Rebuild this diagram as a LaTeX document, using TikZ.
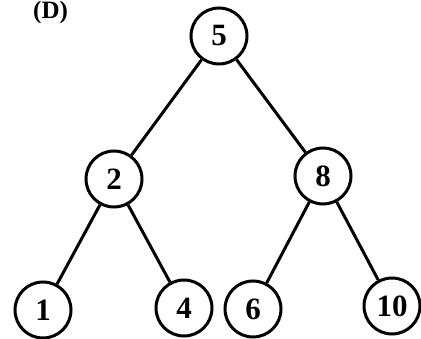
\documentclass[tikz,border=0pt]{standalone}
\usepackage{fontspec}
\setmainfont{Liberation Serif}
\begin{document}
\begin{tikzpicture}[x=1pt,y=-1pt,
  tnode/.style={circle,draw,line width=3pt,minimum size=56pt,inner sep=0pt,font=\fontsize{31}{31}\selectfont\bfseries},
  tedge/.style={line width=3pt}]
\useasboundingbox (0,0) rectangle (421,339);
\node[anchor=base west,font=\fontsize{25}{25}\selectfont\bfseries,inner sep=0pt] (lab) at (33,19) {(D)};
\node[tnode] (n5) at (219,36) {5};
\node[tnode] (n2) at (114,179) {2};
\node[tnode] (n8) at (323,176) {8};
\node[tnode] (n1) at (43,310) {1};
\node[tnode] (n4) at (184,308) {4};
\node[tnode] (n6) at (253,309) {6};
\node[tnode] (n10) at (392,306) {10};
\draw[tedge] (n5) -- (n2);
\draw[tedge] (n5) -- (n8);
\draw[tedge] (n2) -- (n1);
\draw[tedge] (n2) -- (n4);
\draw[tedge] (n8) -- (n6);
\draw[tedge] (n8) -- (n10);
\end{tikzpicture}
\end{document}
